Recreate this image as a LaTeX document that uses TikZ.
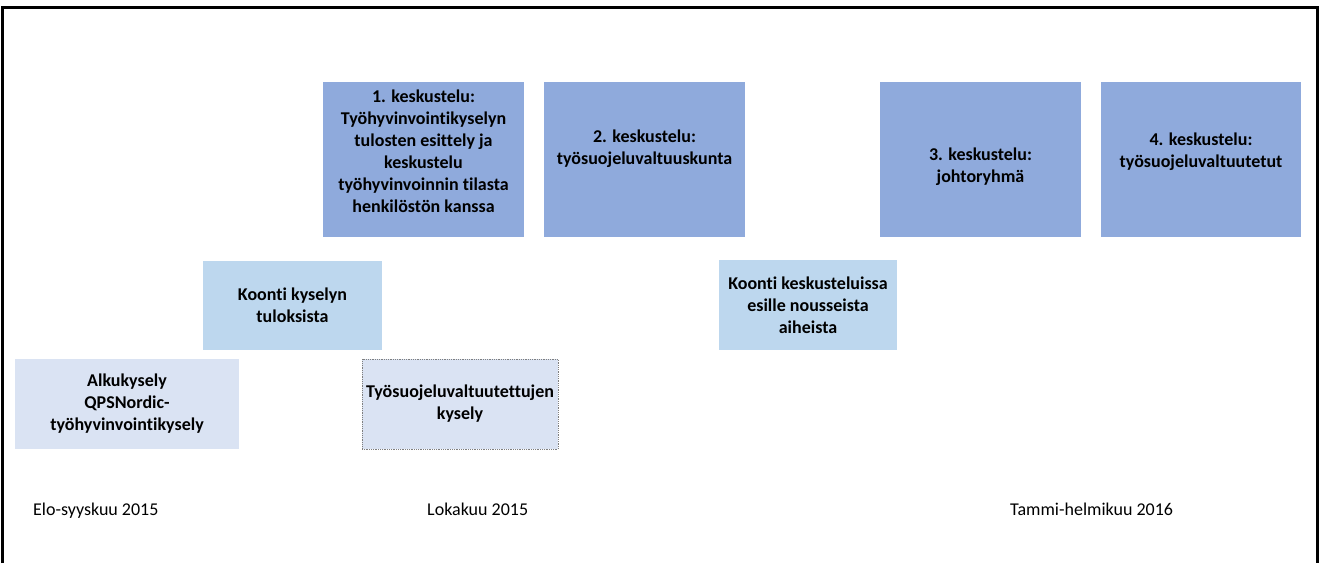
\documentclass[tikz,border=0pt]{standalone}
\usepackage{fontspec}
\setmainfont[Ligatures=NoCommon]{Carlito}
\definecolor{darkbox}{HTML}{8FAADC}
\definecolor{midbox}{HTML}{BDD7EE}
\definecolor{lightbox}{HTML}{DAE3F3}
\definecolor{dotline}{HTML}{7F7F7F}
\tikzset{
  boxbase/.style={inner sep=0pt, outer sep=0pt, draw=none},
  bigbox/.style={boxbase, fill=darkbox},
  sumbox/.style={boxbase, fill=midbox},
  startbox/.style={boxbase, fill=lightbox},
  surveybox/.style={boxbase, fill=lightbox, draw=dotline, densely dotted, line width=0.8pt},
  boxtext/.style={align=center, font=\fontsize{18}{22}\selectfont\bfseries, inner sep=0pt},
  datetext/.style={anchor=base west, font=\fontsize{18}{22}\selectfont, inner sep=0pt},
}
\begin{document}
\begin{tikzpicture}[x=1pt,y=1pt]
\useasboundingbox (0,0) rectangle (1321,563);
% frame (open at the bottom)
\draw[line width=3pt, line join=miter] (2.5,0) -- (2.5,555.5) -- (1317.5,555.5) -- (1317.5,0);
% top row boxes
\node[bigbox, minimum width=201pt, minimum height=155pt] (b1) at (423.5,403.5) {};
\node[bigbox, minimum width=201pt, minimum height=155pt] (b2) at (644.5,403.5) {};
\node[bigbox, minimum width=201pt, minimum height=155pt] (b3) at (980.5,403.5) {};
\node[bigbox, minimum width=200pt, minimum height=155pt] (b4) at (1201,403.5) {};
\node[boxtext] (b1t) at (423.5,412) {1. keskustelu:\\Työhyvinvointikyselyn\\tulosten esittely ja\\keskustelu\\työhyvinvoinnin tilasta\\henkilöstön kanssa};
\node[boxtext] (b2t) at (644.5,414) {2. keskustelu:\\työsuojeluvaltuuskunta};
\node[boxtext] (b3t) at (980.5,396) {3. keskustelu:\\johtoryhmä};
\node[boxtext] (b4t) at (1201,411) {4. keskustelu:\\työsuojeluvaltuutetut};
% summary boxes
\node[sumbox, minimum width=179pt, minimum height=89pt] (k1) at (292.5,257.5) {};
\node[boxtext] (k1t) at (292.5,257.5) {Koonti kyselyn\\tuloksista};
\node[sumbox, minimum width=178pt, minimum height=90pt] (k2) at (808,258) {};
\node[boxtext] (k2t) at (808,258) {Koonti keskusteluissa\\esille nousseista\\aiheista};
% bottom boxes
\node[startbox, minimum width=224pt, minimum height=90pt] (a1) at (127,159) {};
\node[boxtext] (a1t) at (127,159) {Alkukysely\\QPSNordic-\\työhyvinvointikysely};
\node[surveybox, minimum width=196pt, minimum height=90pt] (t1) at (460,159) {};
\node[boxtext] (t1t) at (460,159) {Työsuojeluvaltuutettujen\\kysely};
% dates
\node[datetext] (d1) at (33,48) {Elo-syyskuu 2015};
\node[datetext] (d2) at (427,48) {Lokakuu 2015};
\node[datetext] (d3) at (1010,48) {Tammi-helmikuu 2016};
\end{tikzpicture}
\end{document}
